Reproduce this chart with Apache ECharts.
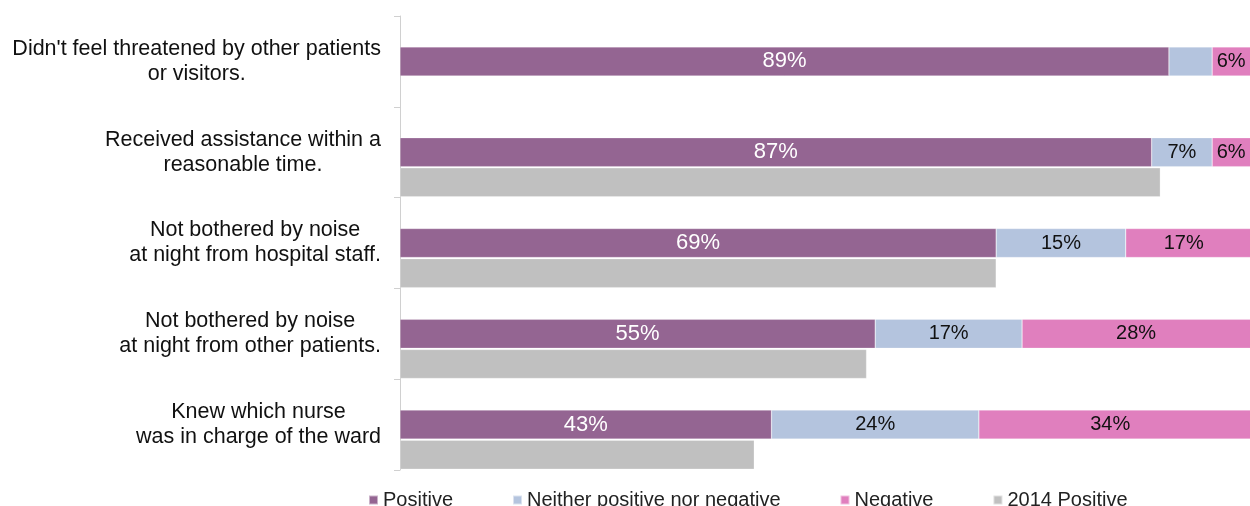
<!DOCTYPE html>
<html>
<head>
<meta charset="utf-8">
<script src="https://cdn.jsdelivr.net/npm/echarts@6/dist/echarts.min.js"></script>
<style>
  html, body { margin: 0; padding: 0; background: #fff; }
  #chart { width: 1250px; height: 506px; }
</style>
</head>
<body>
<div id="chart"></div>
<script>
// Survey statements (top to bottom)
const categories = [
  ["Didn't feel threatened by other patients", "or visitors."],
  ["Received assistance within a", "reasonable time."],
  ["Not bothered by noise", "at night from hospital staff."],
  ["Not bothered by noise", "at night from other patients."],
  ["Knew which nurse", "was in charge of the ward"]
];

// Percentages per statement
const positive = [89, 87, 69, 55, 43];
const neither = [5, 7, 15, 17, 24];
const negative = [6, 6, 17, 28, 34];
const positive2014 = [null, 88, 69, 54, 41];

const seriesNames = ['Positive', 'Neither positive nor negative', 'Negative', '2014 Positive'];
const colors = ['#946592', '#B4C4DE', '#E07FBE', '#C0C0C0'];

const CHART_W = 1250;
const GRID_LEFT = 400;
const GRID_W = 864;          // plot runs past the right edge of the canvas
const PX_PER_PCT = GRID_W / 100;
const VISIBLE_MAX = (CHART_W - GRID_LEFT) / PX_PER_PCT;

const chart = echarts.init(document.getElementById('chart'), null, { renderer: 'canvas' });

const FONT = '"Liberation Sans", Arial, sans-serif';
const BAR_W = 29;

function pctLabel(color, size, minShow) {
  return {
    show: true,
    position: 'inside',
    color: color,
    fontFamily: FONT,
    fontSize: size,
    formatter: p => (p.value >= minShow ? p.value + '%' : '')
  };
}

// Negative segments reach the canvas edge: centre their labels on the visible part
const negativeData = negative.map((v, i) => {
  const start = positive[i] + neither[i];
  const end = start + v;
  const visEnd = Math.min(end, VISIBLE_MAX);
  const dx = ((start + visEnd) / 2 - (start + end) / 2) * PX_PER_PCT;
  return { value: v, label: { offset: [dx, 0] } };
});

const barStyle = c => ({ color: c, borderColor: 'rgba(255,255,255,0.5)', borderWidth: 0.5 });

chart.setOption({
  animation: false,
  grid: { left: GRID_LEFT, top: 16, width: GRID_W, height: 454, containLabel: false, outerBoundsMode: 'none' },
  xAxis: { type: 'value', min: 0, max: 100, show: false },
  yAxis: {
    type: 'category',
    inverse: true,
    data: categories.map(c => c.join('\n')),
    axisLine: { show: true, lineStyle: { color: '#D0D0D0', width: 1 } },
    axisTick: { show: true, length: 6, lineStyle: { color: '#D0D0D0' } },
    axisLabel: {
      margin: 19,
      align: 'right',
      formatter: v => v.split('\n').map(s => '{c|' + s + '}').join('\n'),
      rich: {
        c: { align: 'center', fontFamily: FONT, fontSize: 21.5, color: '#111', lineHeight: 25 }
      }
    }
  },
  legend: {
    data: seriesNames,
    top: 485,
    left: 363,
    icon: 'rect',
    itemWidth: 9,
    itemHeight: 9,
    itemGap: 59,
    textStyle: { fontFamily: FONT, fontSize: 20, color: '#222' }
  },
  series: [
    {
      // empty slot above each stacked bar
      name: 'slot',
      type: 'bar',
      barWidth: BAR_W,
      barGap: '4%',
      data: [],
      silent: true
    },
    {
      name: seriesNames[0], type: 'bar', stack: 'total', barWidth: BAR_W,
      itemStyle: barStyle(colors[0]),
      label: pctLabel('#fff', 22, 0),
      data: positive
    },
    {
      name: seriesNames[1], type: 'bar', stack: 'total', barWidth: BAR_W,
      itemStyle: barStyle(colors[1]),
      label: pctLabel('#111', 20, 6),
      data: neither
    },
    {
      name: seriesNames[2], type: 'bar', stack: 'total', barWidth: BAR_W,
      itemStyle: barStyle(colors[2]),
      label: pctLabel('#111', 20, 0),
      data: negativeData
    },
    {
      name: seriesNames[3], type: 'bar', barWidth: BAR_W,
      itemStyle: barStyle(colors[3]),
      data: positive2014
    }
  ]
});
</script>
</body>
</html>
